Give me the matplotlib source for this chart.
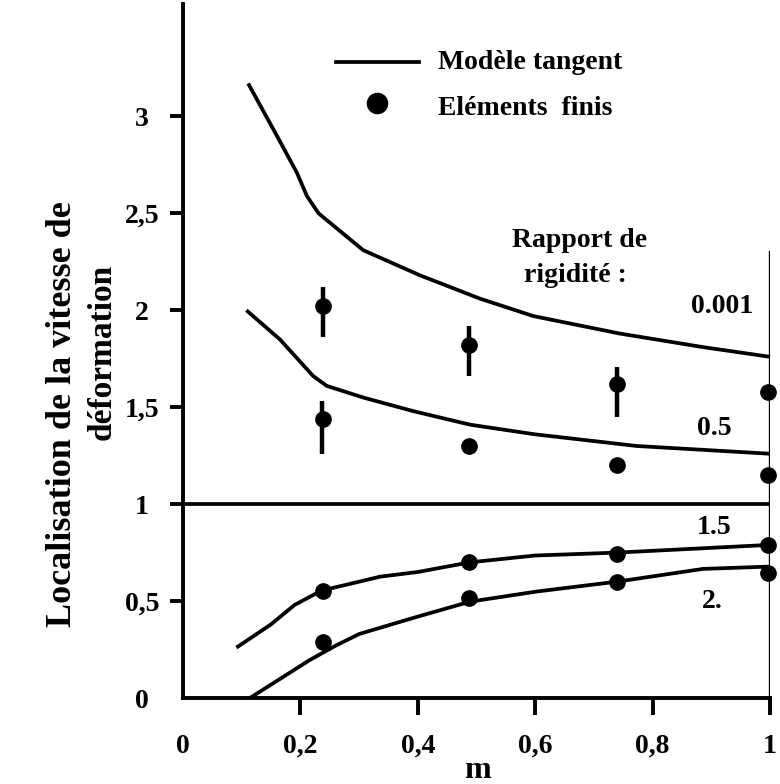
import matplotlib
matplotlib.use('Agg')
import matplotlib.pyplot as plt
import numpy as np

plt.rcParams['font.family'] = ['Liberation Serif', 'DejaVu Serif']
plt.rcParams['font.weight'] = 'bold'

W, H = 780, 784

# ---- data ----
x_0001 = [0.111, 0.160, 0.194, 0.211, 0.231, 0.307, 0.404, 0.506, 0.597, 0.744, 0.886, 1.0]
y_0001 = [3.17, 2.90, 2.71, 2.59, 2.50, 2.31, 2.18, 2.06, 1.97, 1.88, 1.81, 1.76]

x_05 = [0.108, 0.165, 0.222, 0.245, 0.307, 0.392, 0.489, 0.600, 0.773, 1.0]
y_05 = [2.00, 1.85, 1.66, 1.61, 1.55, 1.48, 1.41, 1.36, 1.30, 1.26]

x_15 = [0.091, 0.150, 0.190, 0.236, 0.300, 0.336, 0.400, 0.489, 0.600, 0.739, 0.870, 1.0]
y_15 = [0.26, 0.38, 0.48, 0.554, 0.60, 0.626, 0.65, 0.70, 0.735, 0.75, 0.77, 0.79]

x_2 = [0.114, 0.216, 0.260, 0.300, 0.400, 0.489, 0.602, 0.739, 0.886, 1.0]
y_2 = [0.0, 0.196, 0.27, 0.33, 0.42, 0.497, 0.549, 0.60, 0.666, 0.678]

fe_x = [0.238, 0.487, 0.739, 0.997]
fe_0001 = [2.02, 1.82, 1.62, 1.58]
fe_05 = [1.44, 1.30, 1.20, 1.15]
fe_15 = [0.554, 0.704, 0.743, 0.79]
fe_2 = [0.29, 0.515, 0.60, 0.645]

ebar_x = [0.238, 0.487, 0.739, 0.236]
ebar_lo = [1.86, 1.66, 1.45, 1.26]
ebar_hi = [2.12, 1.92, 1.71, 1.53]

x_ticks = [0, 0.2, 0.4, 0.6, 0.8, 1.0]
x_ticklabels = ['0', '0,2', '0,4', '0,6', '0,8', '1']
y_ticks = [0, 0.5, 1, 1.5, 2, 2.5, 3]
y_ticklabels = ['0', '0,5', '1', '1,5', '2', '2,5', '3']

curve_labels = ['0.001', '0.5', '1.5', '2.']

# ---- figure ----
fig = plt.figure(figsize=(W / 100, H / 100), dpi=100)
ax_left, ax_right, ax_bottom, ax_top = 183, 770, 698, 4
ax = fig.add_axes([ax_left / W, 1 - ax_bottom / H,
                   (ax_right - ax_left) / W, (ax_bottom - ax_top) / H])
ax.set_xlim(0, 1)
ax.set_ylim(0, 3.58)

lw = 2.7
for xs, ys in [(x_0001, y_0001), (x_05, y_05), (x_15, y_15), (x_2, y_2)]:
    ax.plot(xs, ys, color='black', lw=lw, solid_capstyle='butt', clip_on=False)

ax.vlines(ebar_x, ebar_lo, ebar_hi, color='black', lw=3.2)
for ys in [fe_0001, fe_05, fe_15, fe_2]:
    ax.plot(fe_x, ys, 'o', color='black', ms=11, clip_on=False)

# frame lines
ax.axhline(1, color='black', lw=lw)
ax.axvline(1, ymin=0, ymax=2.3 / 3.58, color='black', lw=2.4)
for s in ['top', 'right']:
    ax.spines[s].set_visible(False)
for s in ['left', 'bottom']:
    ax.spines[s].set_linewidth(2.8)

ax.set_xticks(x_ticks)
ax.set_xticklabels(x_ticklabels)
ax.set_yticks(y_ticks)
ax.set_yticklabels(y_ticklabels)
ax.tick_params(axis='x', direction='out', length=12, width=2.8, pad=14, labelsize=20)
ax.tick_params(axis='y', direction='out', length=9.5, width=2.8, pad=20, labelsize=20)
for t in ax.get_yticklabels():
    t.set_horizontalalignment('center')
ax.xaxis.get_major_ticks()[0].tick1line.set_visible(False)
ax.yaxis.get_major_ticks()[0].tick1line.set_visible(False)

def px(x, y):
    return x / W, 1 - y / H

# legend
fs = 20
ax.plot([0.261, 0.402], [3.28, 3.28], color='black', lw=lw, clip_on=False)
ax.plot([0.330], [3.07], 'o', color='black', ms=14.5, clip_on=False)
ax.text(0.434, 3.28, 'Modèle tangent', fontsize=fs, va='center', ha='left')
ax.text(0.434, 3.04, 'Eléments  finis', fontsize=fs, va='center', ha='left')

# annotations
ax.text(0.676, 2.36, 'Rapport de', fontsize=fs, ha='center', va='center')
ax.text(0.668, 2.18, 'rigidité :', fontsize=fs, ha='center', va='center')
ax.text(0.918, 2.02, curve_labels[0], fontsize=fs, ha='center', va='center')
ax.text(0.905, 1.39, curve_labels[1], fontsize=fs, ha='center', va='center')
ax.text(0.905, 0.878, curve_labels[2], fontsize=fs, ha='center', va='center')
ax.text(0.901, 0.50, curve_labels[3], fontsize=fs, ha='center', va='center')

# axis labels
fig.text(*px(63, 414), 'Localisation de la vitesse de', rotation=90,
         fontsize=26, ha='center', va='center')
fig.text(*px(102, 352), 'déformation', rotation=90,
         fontsize=24, ha='center', va='center')
fig.text(*px(477, 771), 'm', fontsize=23, ha='center', va='center')

fig.savefig('out.png', dpi=100)
